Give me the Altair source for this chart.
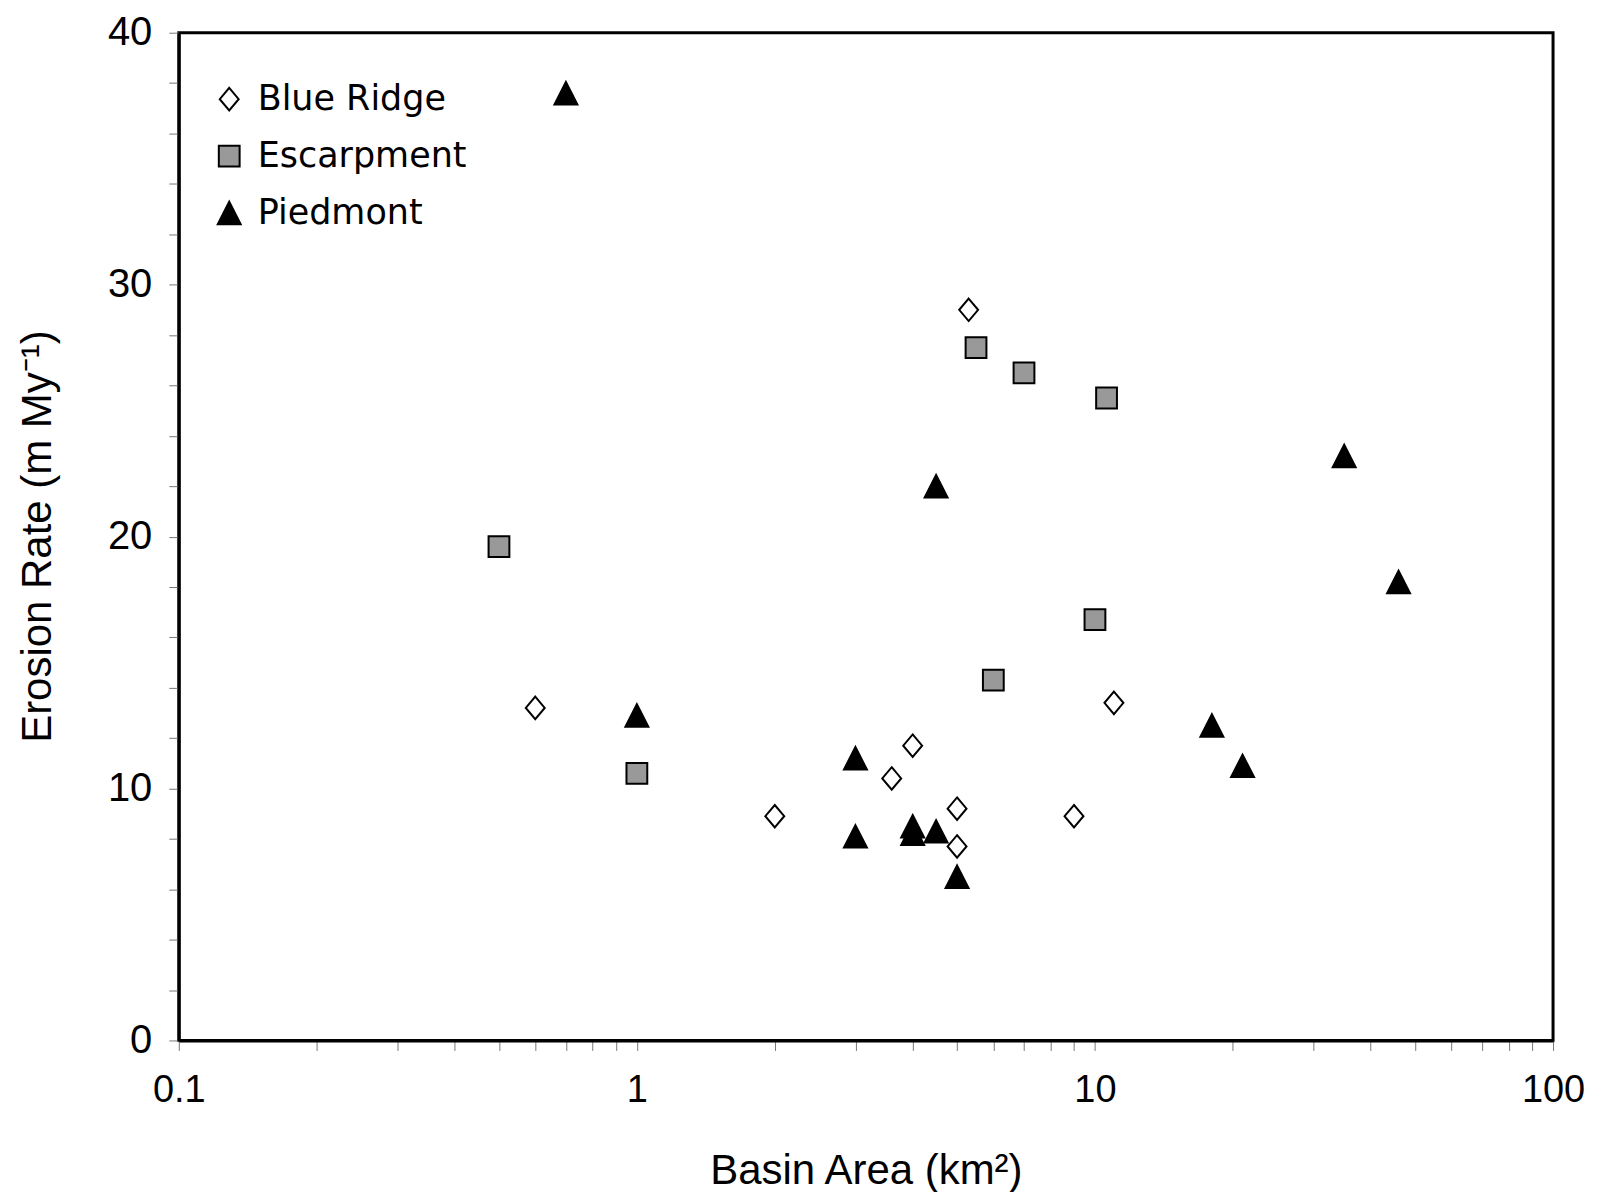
import altair as alt
import pandas as pd

# Data
blue_ridge_area = [0.6, 2.0, 3.6, 4.0, 5.0, 5.0, 5.3, 9.0, 11.0]
blue_ridge_rate = [13.2, 8.9, 10.4, 11.7, 9.2, 7.7, 29.0, 8.9, 13.4]

escarpment_area = [0.5, 1.0, 5.5, 7.0, 10.6, 10.0, 6.0]
escarpment_rate = [19.6, 10.6, 27.5, 26.5, 25.5, 16.7, 14.3]

piedmont_area = [0.7, 1.0, 3.0, 3.0, 4.0, 4.0, 4.5, 5.0, 4.5, 18.0, 21.0, 35.0, 46.0]
piedmont_rate = [37.6, 12.9, 11.2, 8.1, 8.5, 8.2, 8.3, 6.5, 22.0, 12.5, 10.9, 23.2, 18.2]

groups = ["Blue Ridge", "Escarpment", "Piedmont"]

rows = []
for name, xs, ys in [
    ("Blue Ridge", blue_ridge_area, blue_ridge_rate),
    ("Escarpment", escarpment_area, escarpment_rate),
    ("Piedmont", piedmont_area, piedmont_rate),
]:
    for xv, yv in zip(xs, ys):
        rows.append({"Region": name, "Area": xv, "Rate": yv})
df = pd.DataFrame(rows)

x_ticks = [0.1 * k for k in range(1, 10)] + [k for k in range(1, 10)] + [10 * k for k in range(1, 10)] + [100]
x_ticks = [round(v, 6) for v in x_ticks]
y_ticks = list(range(0, 41, 2))

AX_FONT = "Liberation Sans"

DIAMOND = "M0,-0.95L0.8,0L0,0.95L-0.8,0Z"
SQUARE = "M-0.88,-0.88L0.88,-0.88L0.88,0.88L-0.88,0.88Z"
TRIANGLE = "M0,-0.95L0.97,0.95L-0.97,0.95Z"


def legend_spec():
    return alt.Legend(
        title=None,
        orient="none",
        legendX=33,
        legendY=49,
        padding=0,
        labelFont="DejaVu Sans",
        labelFontSize=35,
        labelColor="black",
        labelOffset=11,
        labelLimit=0,
        rowPadding=21,
        symbolSize=560,
        symbolStrokeWidth=2,
        symbolOpacity=1,
    )


chart = (
    alt.Chart(df)
    .mark_point(filled=True, opacity=1, strokeWidth=2, size=560)
    .encode(
        x=alt.X(
            "Area:Q",
            scale=alt.Scale(type="log", domain=[0.1, 100], nice=False),
            axis=alt.Axis(
                title="Basin Area (km²)",
                values=x_ticks,
                labelExpr="(datum.value == 0.1 || datum.value == 1 || datum.value == 10 || datum.value == 100) ? format(datum.value, '~g') : ''",
                grid=False,
                tickSize=10,
                labelPadding=21,
                labelFontSize=38,
                labelFont=AX_FONT,
                labelColor="black",
                titleFont=AX_FONT,
                titleFontSize=42,
                titleFontWeight="normal",
                titleColor="black",
                titleBaseline="middle",
                titleY=130,
                labelFlush=False,
                labelOverlap=False,
            ),
        ),
        y=alt.Y(
            "Rate:Q",
            scale=alt.Scale(domain=[0, 40], nice=False),
            axis=alt.Axis(
                title="Erosion Rate (m My⁻¹)",
                values=y_ticks,
                labelExpr="datum.value % 10 == 0 ? datum.label : ''",
                grid=False,
                tickSize=10,
                labelPadding=17,
                labelFontSize=40,
                labelFont=AX_FONT,
                labelColor="black",
                titleFont=AX_FONT,
                titleFontSize=42,
                titleFontWeight="normal",
                titleColor="black",
                titleBaseline="middle",
                titleX=-141,
                titleY=504,
                labelOverlap=False,
                labelFlush=False,
            ),
        ),
        shape=alt.Shape(
            "Region:N",
            scale=alt.Scale(domain=groups, range=[DIAMOND, SQUARE, TRIANGLE]),
            legend=legend_spec(),
        ),
        fill=alt.Fill(
            "Region:N",
            scale=alt.Scale(domain=groups, range=["white", "#999999", "black"]),
            legend=legend_spec(),
        ),
        stroke=alt.Stroke(
            "Region:N",
            scale=alt.Scale(domain=groups, range=["black", "black", "black"]),
            legend=legend_spec(),
        ),
    )
    .properties(
        width=1376,
        height=1009,
        background="white",
        padding={"left": 171, "top": 24, "right": 36, "bottom": 151},
        autosize=alt.AutoSizeParams(type="none"),
    )
    .configure_view(stroke="black", strokeWidth=3)
    .configure_axis(domainColor="black", domainWidth=3, tickColor="#777777", tickWidth=1)
)

chart.save("out.html", embed_options={"renderer": "svg", "actions": False})
